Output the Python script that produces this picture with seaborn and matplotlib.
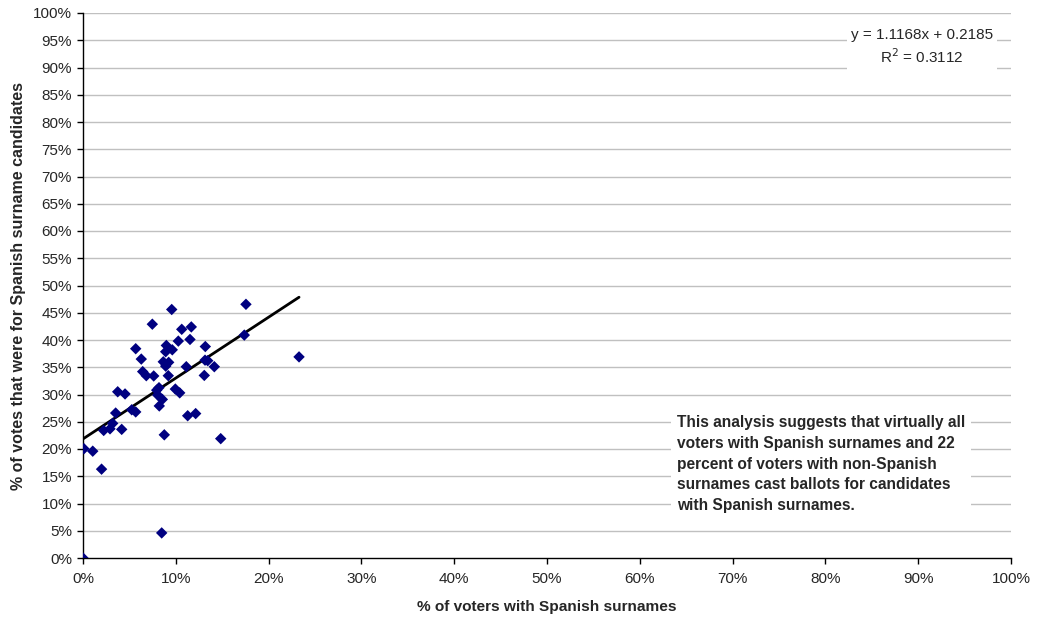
import matplotlib
matplotlib.use("Agg")
import matplotlib.pyplot as plt
import seaborn as sns
import numpy as np
import pandas as pd
from matplotlib.ticker import PercentFormatter

# Share of voters with Spanish surnames (fraction)
spanish_voters = [
    0.0956, 0.1756, 0.0747, 0.1064, 0.1167, 0.0898, 0.1027, 0.1153, 0.1738, 0.0568,
    0.0891, 0.0962, 0.1318, 0.0628, 0.0865, 0.0923, 0.0891, 0.1315, 0.1344, 0.1113,
    0.1415, 0.0643, 0.0682, 0.0762, 0.0919, 0.1307, 0.0374, 0.0453, 0.0794, 0.0819,
    0.0805, 0.0855, 0.0822, 0.0995, 0.1042, 0.0352, 0.0525, 0.0568, 0.1128, 0.1214,
    0.0223, 0.0291, 0.0320, 0.0417, 0.0876, 0.1484, 0.0010, 0.0105, 0.0200, 0.0848,
    0.0000, 0.2328,
]
# Share of votes for Spanish-surname candidates (fraction)
spanish_votes = [
    0.456, 0.4655, 0.429, 0.4196, 0.424, 0.390, 0.398, 0.401, 0.409, 0.384,
    0.3785, 0.382, 0.388, 0.365, 0.360, 0.359, 0.352, 0.363, 0.362, 0.351,
    0.351, 0.342, 0.3345, 0.334, 0.3345, 0.335, 0.305, 0.301, 0.308, 0.3125,
    0.299, 0.291, 0.279, 0.310, 0.303, 0.266, 0.272, 0.268, 0.261, 0.265,
    0.234, 0.237, 0.247, 0.236, 0.226, 0.219, 0.2005, 0.196, 0.163, 0.046,
    0.000, 0.369,
]
slope = 1.1168
intercept = 0.2185
r_squared = 0.3112
x_ticks = [i / 10 for i in range(11)]
y_ticks = [i / 20 for i in range(21)]
x_label = "% of voters with Spanish surnames"
y_label = "% of votes that were for Spanish surname candidates"
note = ("This analysis suggests that virtually all\n"
        "voters with Spanish surnames and 22\n"
        "percent of voters with non-Spanish\n"
        "surnames cast ballots for candidates\n"
        "with Spanish surnames.")

df = pd.DataFrame({"x": spanish_voters, "y": spanish_votes})
xs = np.array([min(spanish_voters), max(spanish_voters)])
trend = pd.DataFrame({"x": xs, "y": slope * xs + intercept})

sns.set_style("white")
plt.rcParams["font.family"] = ["Liberation Sans", "DejaVu Sans"]

fig = plt.figure(figsize=(10.41, 6.22), dpi=100)
ax = fig.add_axes([83 / 1041, 1 - 558 / 622, (1011 - 83) / 1041, (558 - 13) / 622])

for yv in y_ticks[1:]:
    ax.axhline(yv, color="#c0c0c0", lw=1, zorder=0)

sns.lineplot(data=trend, x="x", y="y", color="black", lw=2, ax=ax, zorder=2)
sns.scatterplot(data=df, x="x", y="y", marker="D", color="#000080", s=34,
                edgecolor="none", ax=ax, zorder=3)

ax.set_xlim(0, 1)
ax.set_ylim(0, 1)
ax.set_xticks(x_ticks)
ax.set_yticks(y_ticks)
ax.xaxis.set_major_formatter(PercentFormatter(1.0, decimals=0))
ax.yaxis.set_major_formatter(PercentFormatter(1.0, decimals=0))
ax.tick_params(axis="both", labelsize=11, length=4, width=1, color="black",
               direction="out", bottom=True, left=True)
ax.tick_params(axis="x", pad=6)
ax.tick_params(axis="y", pad=4)
for side in ["top", "right"]:
    ax.spines[side].set_visible(False)
for side in ["left", "bottom"]:
    ax.spines[side].set_color("black")
    ax.spines[side].set_linewidth(1)

ax.set_xlabel(x_label, fontsize=11.1, fontweight="bold", labelpad=10)
ax.set_ylabel(y_label, fontsize=11.5, fontweight="bold", labelpad=5)

ax.text(0.904, 0.972, f"y = {slope}x + {intercept}\nR$^2$ = {r_squared}",
        transform=ax.transAxes, ha="center", va="top", fontsize=11,
        multialignment="center", linespacing=1.3,
        bbox=dict(facecolor="white", edgecolor="none", pad=3))

ax.text(0.640, 0.262, note, transform=ax.transAxes, ha="left", va="top",
        fontsize=11.2, fontweight="bold", linespacing=1.48,
        bbox=dict(facecolor="white", edgecolor="none", pad=4))

fig.savefig("out.png", dpi=100)
